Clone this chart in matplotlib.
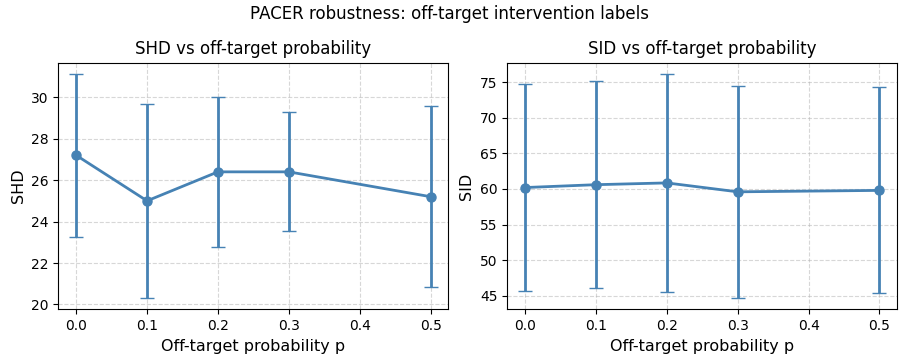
import numpy as np
import matplotlib.pyplot as plt

p = [0.0, 0.1, 0.2, 0.3, 0.5]
shd_mean = [27.2, 25.0, 26.4, 26.4, 25.2]
shd_std = [3.93, 4.69, 3.61, 2.87, 4.38]
sid_mean = [60.2, 60.6, 60.85, 59.6, 59.8]
sid_std = [14.46, 14.5, 15.3, 14.9, 14.46]

fig, axes = plt.subplots(1, 2, figsize=(8.99, 3.6), dpi=100)

ax = axes[0]
ax.errorbar(p, shd_mean, yerr=shd_std, fmt='-o', color='steelblue',
            capsize=5, linewidth=2, markersize=6.5)
ax.set_title('SHD vs off-target probability', fontsize=12)
ax.set_xlabel('Off-target probability p', fontsize=11.5)
ax.set_ylabel('SHD', fontsize=11.5)
ax.grid(True, linestyle='--', alpha=0.5)

ax = axes[1]
ax.errorbar(p, sid_mean, yerr=sid_std, fmt='-o', color='steelblue',
            capsize=5, linewidth=2, markersize=6.5)
ax.set_title('SID vs off-target probability', fontsize=12)
ax.set_xlabel('Off-target probability p', fontsize=11.5)
ax.set_ylabel('SID', fontsize=11.5)
ax.grid(True, linestyle='--', alpha=0.5)

fig.suptitle('PACER robustness: off-target intervention labels', fontsize=12, y=0.985)
fig.subplots_adjust(left=0.065, right=0.998, top=0.826, bottom=0.141, wspace=0.151)
fig.savefig('out.png')
